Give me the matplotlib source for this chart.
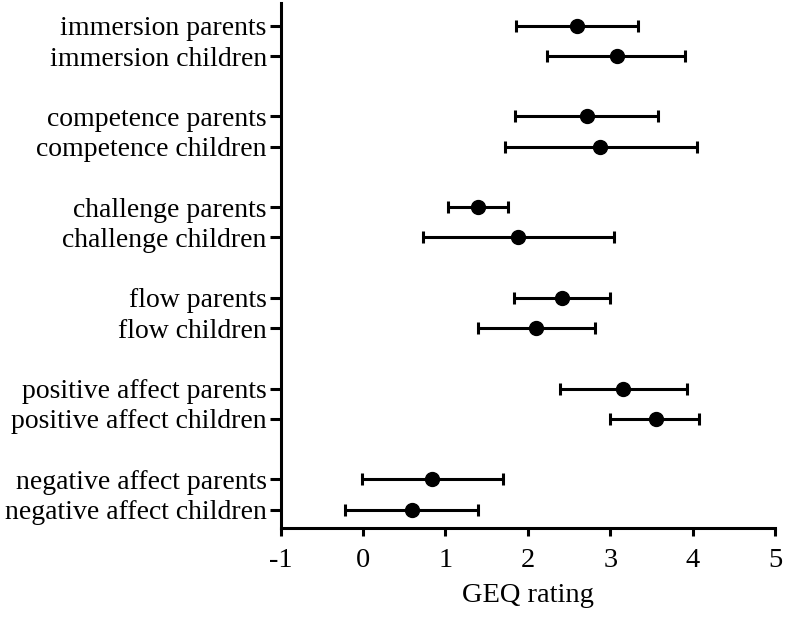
import matplotlib
matplotlib.use("Agg")
import matplotlib.pyplot as plt
import numpy as np

labels = ["immersion parents", "immersion children",
          "competence parents", "competence children",
          "challenge parents", "challenge children",
          "flow parents", "flow children",
          "positive affect parents", "positive affect children",
          "negative affect parents", "negative affect children"]
means = [2.60, 3.08, 2.72, 2.88, 1.40, 1.88, 2.41, 2.10, 3.16, 3.55, 0.84, 0.59]
lower = [1.86, 2.23, 1.84, 1.72, 1.03, 0.73, 1.83, 1.39, 2.39, 3.00, -0.01, -0.22]
upper = [3.34, 3.91, 3.58, 4.05, 1.76, 3.04, 3.00, 2.81, 3.93, 4.08, 1.70, 1.39]
xticks = [-1, 0, 1, 2, 3, 4, 5]

plt.rcParams['font.family'] = ['Liberation Serif', 'DejaVu Serif']

fig = plt.figure(figsize=(7.92, 6.17), dpi=100)
ax = fig.add_axes([0.3544, 0.1437, 0.9785 - 0.3544, 0.995 - 0.1437])

ypos = np.array([-(3 * (i // 2) + (i % 2)) for i in range(len(labels))])
means_a = np.array(means)
xerr = np.vstack([means_a - np.array(lower), np.array(upper) - means_a])

ax.errorbar(means_a, ypos, xerr=xerr, fmt='o', color='black', ecolor='black',
            markersize=10, elinewidth=2.2, capsize=4.5, capthick=2.2, zorder=3)

ax.set_yticks(ypos)
ax.set_yticklabels(labels, fontsize=20)
ax.set_xticks(xticks)
ax.set_xticklabels([str(v) for v in xticks], fontsize=20.5)
ax.set_xlim(-1, 5)
ax.set_ylim(-16.62, 0.75)
ax.set_xlabel("GEQ rating", fontsize=20.5, labelpad=7)

for s in ['top', 'right']:
    ax.spines[s].set_visible(False)
for s in ['left', 'bottom']:
    ax.spines[s].set_linewidth(2.2)
ax.tick_params(axis='y', length=8, width=2.2, pad=2)
ax.tick_params(axis='x', length=6, width=2.2, pad=8)

fig.savefig("out.png", dpi=100)
